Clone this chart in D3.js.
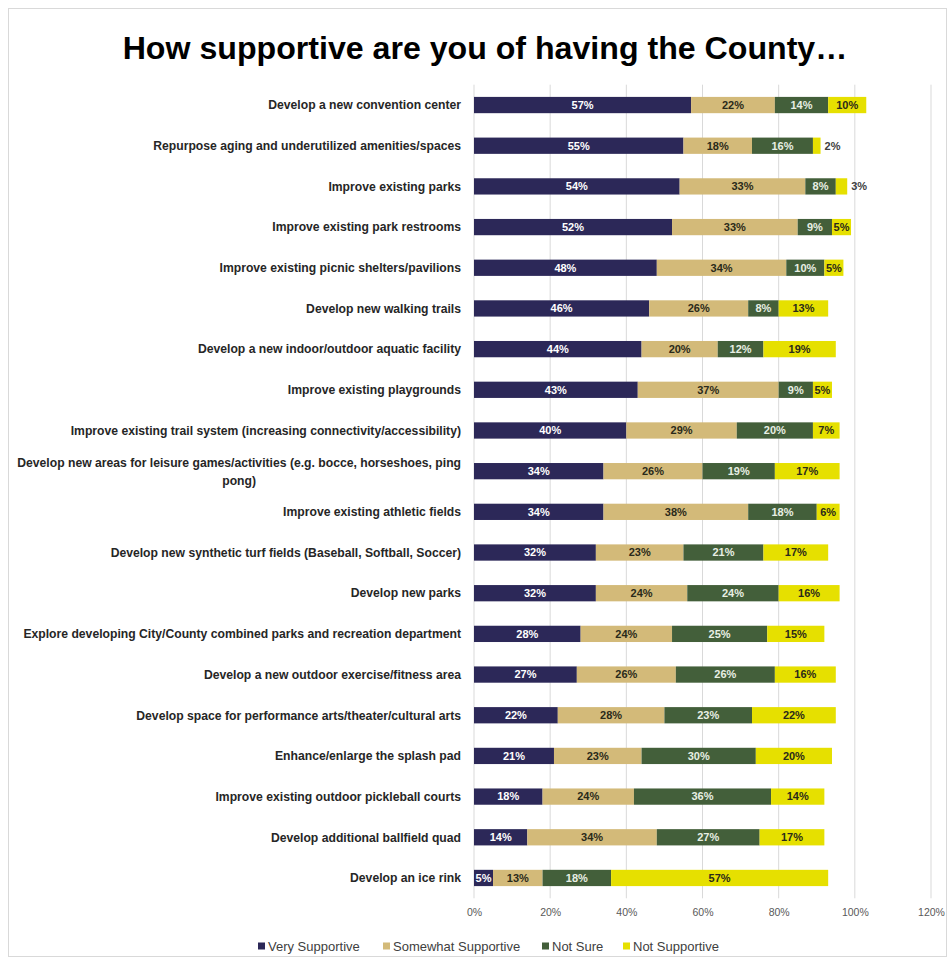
<!DOCTYPE html>
<html>
<head>
<meta charset="utf-8">
<script src="https://cdn.jsdelivr.net/npm/d3@7"></script>
<style>
  html, body { margin: 0; padding: 0; background: #fff; }
  svg { display: block; }
  text { font-family: "Liberation Sans", Arial, sans-serif; }
</style>
</head>
<body>
<svg id="chart" width="952" height="961"></svg>
<script>
// ---- Data ----
const categories = [
  "Develop a new convention center",
  "Repurpose aging and underutilized amenities/spaces",
  "Improve existing parks",
  "Improve existing park restrooms",
  "Improve existing picnic shelters/pavilions",
  "Develop new walking trails",
  "Develop a new indoor/outdoor aquatic facility",
  "Improve existing playgrounds",
  "Improve existing trail system (increasing connectivity/accessibility)",
  "Develop new areas for leisure games/activities (e.g. bocce, horseshoes, ping pong)",
  "Improve existing athletic fields",
  "Develop new synthetic turf fields (Baseball, Softball, Soccer)",
  "Develop new parks",
  "Explore developing City/County combined parks and recreation department",
  "Develop a new outdoor exercise/fitness area",
  "Develop space for performance arts/theater/cultural arts",
  "Enhance/enlarge the splash pad",
  "Improve existing outdoor pickleball courts",
  "Develop additional ballfield quad",
  "Develop an ice rink"
];
const seriesNames = ["Very Supportive", "Somewhat Supportive", "Not Sure", "Not Supportive"];
const verySupportive      = [57, 55, 54, 52, 48, 46, 44, 43, 40, 34, 34, 32, 32, 28, 27, 22, 21, 18, 14, 5];
const somewhatSupportive  = [22, 18, 33, 33, 34, 26, 20, 37, 29, 26, 38, 23, 24, 24, 26, 28, 23, 24, 34, 13];
const notSure             = [14, 16,  8,  9, 10,  8, 12,  9, 20, 19, 18, 21, 24, 25, 26, 23, 30, 36, 27, 18];
const notSupportive       = [10,  2,  3,  5,  5, 13, 19,  5,  7, 17,  6, 17, 16, 15, 16, 22, 20, 14, 17, 57];
const tickValues = [0, 0.2, 0.4, 0.6, 0.8, 1.0, 1.2];
const titleText = "How supportive are you of having the County…";

const seriesValues = [verySupportive, somewhatSupportive, notSure, notSupportive];
const colors = ["#2c2858", "#d3ba79", "#435f3a", "#e6e000"];
const labelColors = ["#ffffff", "#2a2a1a", "#e8efe4", "#2a2a1a"];

// ---- Build table ----
const rows = categories.map((c, i) => {
  const r = { category: c };
  seriesNames.forEach((s, k) => r[s] = seriesValues[k][i] / 100);
  return r;
});
const stacked = d3.stack().keys(seriesNames)(rows);

const svg = d3.select("#chart");

// frame
svg.append("rect")
  .attr("x", 8.5).attr("y", 8.5)
  .attr("width", 938).attr("height", 948)
  .attr("fill", "#fff").attr("stroke", "#d9d9d9").attr("stroke-width", 1);

// title
const title = svg.append("text")
  .attr("x", 485).attr("y", 59)
  .attr("text-anchor", "middle")
  .attr("font-size", 28)
  .attr("font-weight", "bold")
  .attr("fill", "#000")
  .text(titleText);
{
  const w = title.node().getComputedTextLength();
  title.attr("font-size", 28 * 725 / w);
}

// scales
const x = d3.scaleLinear().domain([0, 1.2]).range([474, 931]);
const y = d3.scaleBand().domain(categories).range([84.7, 898.3]).paddingInner(0.6).paddingOuter(0.3);

// gridlines
svg.append("g")
  .selectAll("line")
  .data(tickValues)
  .join("line")
  .attr("x1", d => x(d)).attr("x2", d => x(d))
  .attr("y1", 84.7).attr("y2", 898.3)
  .attr("stroke", "#d9d9d9").attr("stroke-width", 1);

// x axis
const xAxis = svg.append("g")
  .attr("transform", "translate(0,898.3)")
  .call(d3.axisBottom(x).tickValues(tickValues).tickFormat(d3.format(".0%")).tickSize(0).tickPadding(10));
xAxis.select(".domain").remove();
xAxis.selectAll("text")
  .attr("font-family", "Liberation Sans, Arial, sans-serif")
  .attr("font-size", 10.5)
  .attr("fill", "#595959");

// bars
const groups = svg.append("g")
  .selectAll("g")
  .data(stacked)
  .join("g")
  .attr("fill", (d, k) => colors[k]);

groups.selectAll("rect")
  .data(d => d)
  .join("rect")
  .attr("x", d => x(d[0]))
  .attr("y", d => y(d.data.category))
  .attr("width", d => x(d[1]) - x(d[0]))
  .attr("height", y.bandwidth());

// value labels
stacked.forEach((s, k) => {
  svg.append("g")
    .selectAll("text")
    .data(s)
    .join("text")
    .attr("x", d => {
      const v = d[1] - d[0];
      if (v < 0.04) return x(d[1]) + 4;
      return (x(d[0]) + x(d[1])) / 2;
    })
    .attr("y", d => y(d.data.category) + y.bandwidth() / 2)
    .attr("dy", "0.35em")
    .attr("text-anchor", d => (d[1] - d[0]) < 0.04 ? "start" : "middle")
    .attr("font-size", 11)
    .attr("font-weight", "bold")
    .attr("fill", d => (d[1] - d[0]) < 0.04 ? "#404040" : labelColors[k])
    .text(d => Math.round((d[1] - d[0]) * 100) + "%");
});

// category labels
const labelRight = 461;
const wrapIndex = 9;
const catG = svg.append("g");
let labelSize = 10.5;
{
  const probe = catG.append("text").attr("font-size", 10.5).attr("font-weight", "bold")
    .text(categories[13]);
  const w = probe.node().getComputedTextLength();
  labelSize = 10.5 * 438 / w;
  probe.remove();
}
categories.forEach((c, i) => {
  const cy = y(c) + y.bandwidth() / 2;
  if (i === wrapIndex) {
    const line1 = "Develop new areas for leisure games/activities (e.g. bocce, horseshoes, ping";
    const line2 = "pong)";
    const t = catG.append("text")
      .attr("text-anchor", "middle")
      .attr("font-size", labelSize)
      .attr("font-weight", "bold")
      .attr("fill", "#262626");
    t.append("tspan").attr("x", 0).attr("y", cy - 8).attr("dy", "0.35em").text(line1);
    t.append("tspan").attr("x", 0).attr("y", cy + 10).attr("dy", "0.35em").text(line2);
    const w1 = t.select("tspan").node().getComputedTextLength();
    t.selectAll("tspan").attr("x", labelRight - w1 / 2);
  } else {
    catG.append("text")
      .attr("x", labelRight)
      .attr("y", cy)
      .attr("dy", "0.35em")
      .attr("text-anchor", "end")
      .attr("font-size", labelSize)
      .attr("font-weight", "bold")
      .attr("fill", "#262626")
      .text(c);
  }
});

// legend
const legendX = [258, 383, 542, 623];
const legend = svg.append("g");
seriesNames.forEach((s, k) => {
  legend.append("rect")
    .attr("x", legendX[k]).attr("y", 942.5)
    .attr("width", 7).attr("height", 7)
    .attr("fill", colors[k]);
  legend.append("text")
    .attr("x", legendX[k] + 10).attr("y", 946)
    .attr("dy", "0.35em")
    .attr("font-size", 13)
    .attr("fill", "#404040")
    .text(s);
});
</script>
</body>
</html>
